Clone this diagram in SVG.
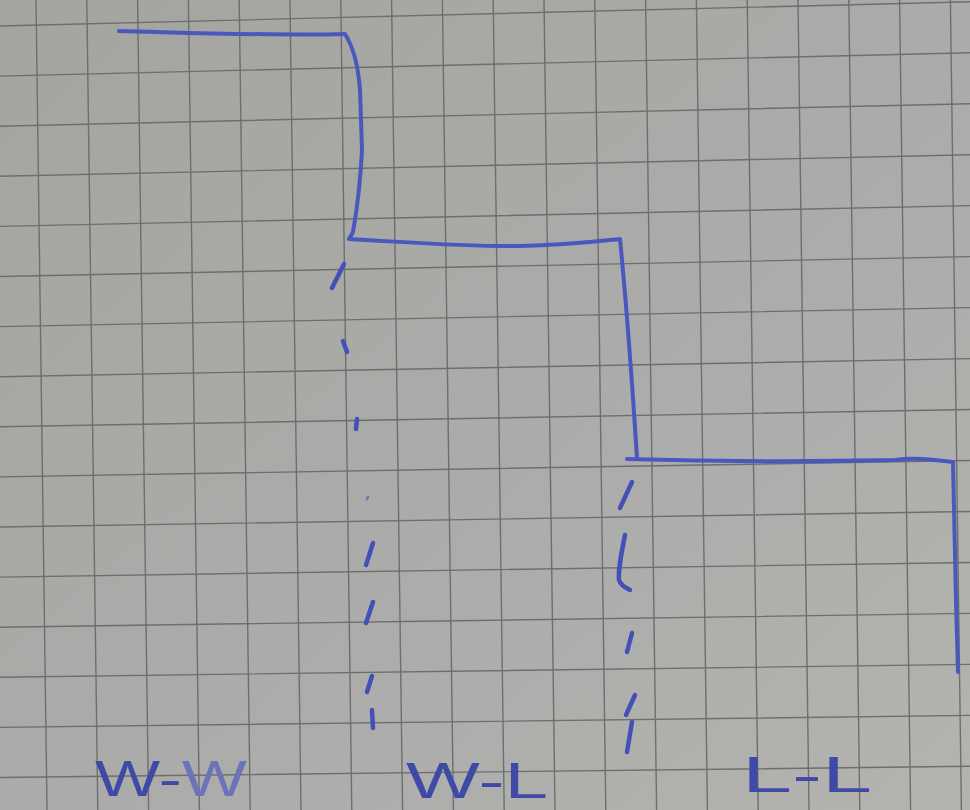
<svg xmlns="http://www.w3.org/2000/svg" width="970" height="810" viewBox="0 0 970 810">
<defs>
<linearGradient id="paper" x1="0" y1="0" x2="1" y2="1">
<stop offset="0" stop-color="#a4a5a1"/>
<stop offset="0.6" stop-color="#acadaa"/>
<stop offset="1" stop-color="#b3b4b0"/>
</linearGradient>
<style>
.grid{stroke:#6c6f6c;stroke-width:1.4;fill:none}
.ink{stroke:#4a57bd;stroke-width:4;fill:none;stroke-linecap:round;stroke-linejoin:round}
.dash{stroke:#4250b8;stroke-width:4.5;fill:none;stroke-linecap:round}
.lbl{font-family:"Liberation Sans",Arial,sans-serif;font-size:50px;fill:#3f4aa6}
</style>
</defs>
<rect width="970" height="810" fill="url(#paper)"/>
<g id="grid" class="grid">
<path d="M36,0L47,810M86.8,0L97.8,810M137.6,0L148.6,810M188.4,0L199.4,810M239.2,0L250.2,810M290,0L301,810M340.8,0L351.8,810M391.6,0L402.6,810M442.4,0L453.4,810M493.2,0L504.2,810M544,0L555,810M594.8,0L605.8,810M645.6,0L656.6,810M696.4,0L707.4,810M747.2,0L758.2,810M798,0L809,810M848.8,0L859.8,810M899.6,0L910.6,810M950.4,0L961.4,810"/>
<path d="M0,26L970,1.75M0,76.1L970,52.7M0,126.2L970,103.7M0,176.3L970,154.7M0,226.4L970,205.6M0,276.5L970,256.6M0,326.6L970,307.6M0,376.7L970,358.6M0,426.8L970,409.5M0,476.9L970,460.5M0,527L970,511.5M0,577.1L970,562.5M0,627.2L970,613.4M0,677.3L970,664.4M0,727.4L970,715.4M0,777.5L970,766.3"/>
</g>
<g id="staircase" class="ink">
<path d="M119,31 C200,33 280,36 345,34 C352,45 358,62 360,90 L362,150 C360,190 356,215 353,232 L349,239 C420,243 470,247 520,246 C570,245 600,241 620,239 C626,300 632,380 637,458"/>
<path d="M627,459 C700,461 800,462 895,460 C915,457 935,460 953,462 L956,600 L958,672"/>
</g>
<g id="boundary-left" class="dash">
<path d="M344,264 L332,288"/>
<path d="M343,341 L347,352"/>
<path d="M357,419 L356,429"/>
<path d="M368,497 L367,499" stroke-width="2.5" opacity="0.6"/>
<path d="M373,543 L366,565"/>
<path d="M373,602 L366,623"/>
<path d="M372,676 L367,692"/>
<path d="M372,710 L373,728"/>
</g>
<g id="boundary-right" class="dash">
<path d="M632,482 L620,508"/>
<path d="M625,535 C621,555 618,570 619,580 C621,586 626,588 630,590"/>
<path d="M632,633 L627,652"/>
<path d="M635,695 L626,715"/>
<path d="M632,722 L627,752"/>
</g>
<g id="labels" class="lbl">
<text id="label-ww" x="95" y="796" textLength="152" lengthAdjust="spacingAndGlyphs">W-<tspan fill="#6b74b8">W</tspan></text>
<text id="label-wl" x="406" y="798" textLength="142" lengthAdjust="spacingAndGlyphs">W-L</text>
<text id="label-ll" x="742" y="792" textLength="130" lengthAdjust="spacingAndGlyphs">L-L</text>
</g>
</svg>
